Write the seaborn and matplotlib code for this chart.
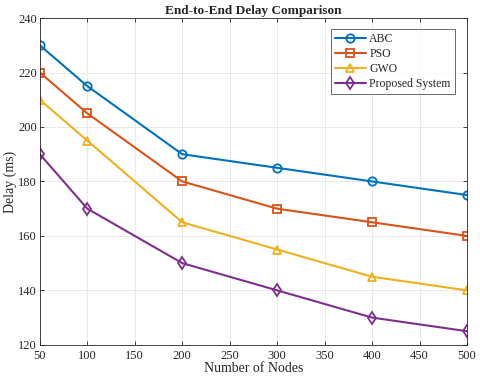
"""End-to-end delay comparison chart."""

import pandas as pd
import seaborn as sns
import matplotlib.pyplot as plt

nodes = [50, 100, 200, 300, 400, 500]
abc = [230, 215, 190, 185, 180, 175]
pso = [220, 205, 180, 170, 165, 160]
gwo = [210, 195, 165, 155, 145, 140]
proposed = [190, 170, 150, 140, 130, 125]

series = [
    ('ABC', abc, '#0072BD', 'o'),
    ('PSO', pso, '#D95319', 's'),
    ('GWO', gwo, '#EDB120', '^'),
    ('Proposed System', proposed, '#7E2F8E', 'd'),
]

sns.set_style('ticks')
plt.rcParams['font.family'] = ['Liberation Serif', 'DejaVu Serif']
plt.rcParams['xtick.direction'] = 'in'
plt.rcParams['ytick.direction'] = 'in'

fig = plt.figure(figsize=(4.8, 3.84), dpi=100)
ax = fig.add_axes([0.083, 0.102, 0.89, 0.851])

for name, values, color, marker in series:
    df = pd.DataFrame({'nodes': nodes, 'delay': values})
    sns.lineplot(
        data=df, x='nodes', y='delay', ax=ax, color=color, label=name,
        marker=marker, markersize=6, markerfacecolor='none',
        markeredgecolor=color, markeredgewidth=1.3, linewidth=1.5
    )

ax.set_xlim(50, 500)
ax.set_ylim(120, 240)
ax.set_xticks(range(50, 501, 50))
ax.set_yticks(range(120, 241, 20))
ax.grid(True, color='#e6e6e6', linewidth=0.6)
ax.tick_params(labelsize=9, colors='#262626', length=3, width=0.6,
               top=True, right=True, pad=2)
ax.tick_params(axis='x', pad=4)
for spine in ax.spines.values():
    spine.set_color('#262626')
    spine.set_linewidth(0.6)

ax.set_title('End-to-End Delay Comparison', fontsize=9.5, fontweight='bold', pad=3)
ax.set_xlabel('Number of Nodes', fontsize=10, labelpad=0)
ax.set_ylabel('Delay (ms)', fontsize=10, labelpad=1)

leg = ax.legend(loc='upper right', fontsize=8.5, frameon=True, fancybox=False,
                edgecolor='#262626', borderpad=0.35, handlelength=2.6,
                handletextpad=0.3, labelspacing=0.25,
                bbox_to_anchor=(0.985, 0.985))
leg.get_frame().set_linewidth(0.6)

fig.savefig('out.png', dpi=100)
plt.close()
